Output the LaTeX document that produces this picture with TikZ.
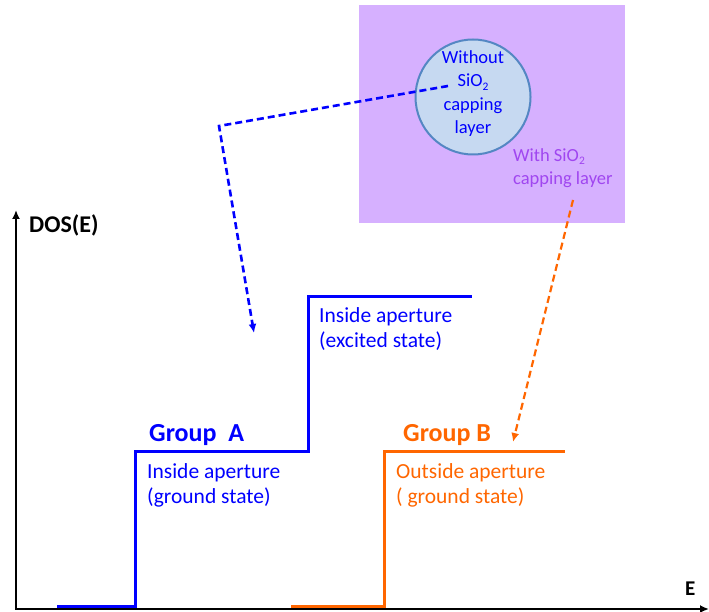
\documentclass[tikz,border=0pt]{standalone}
\usepackage{fontspec}
\setmainfont{Carlito}
\usetikzlibrary{arrows.meta}
\definecolor{myblue}{RGB}{0,0,255}
\definecolor{myorange}{RGB}{255,102,0}
\definecolor{boxpurple}{RGB}{214,176,255}
\definecolor{txtpurple}{RGB}{160,70,240}
\definecolor{circfill}{RGB}{198,217,241}
\definecolor{circline}{RGB}{84,135,195}
\newcommand\mysub[1]{\raisebox{-0.35ex}{\scalebox{0.62}{#1}}}
\begin{document}
\begin{tikzpicture}[x=1pt,y=-1pt,
  axis/.style={line width=2.6pt,black,{Latex[length=9pt,width=8pt]}-{Latex[length=9pt,width=8pt]}},
  stepline/.style={line width=3pt},
  dasharrow/.style={line width=2.6pt,dash pattern=on 7pt off 4pt,-{Latex[length=9pt,width=8pt]}},
  lbl/.style={inner sep=0pt,anchor=base west,align=left},
  lbig/.style={font=\fontsize{26}{30}\selectfont\bfseries},
  lmid/.style={font=\fontsize{21.5}{25}\selectfont},
  lsmall/.style={font=\fontsize{18.5}{23.5}\selectfont}]
\useasboundingbox (0,0) rectangle (709,612);
% purple box and circle
\fill[boxpurple] (359,5) rectangle (625,223);
\node[circle,draw=circline,fill=circfill,line width=2pt,minimum size=115pt,inner sep=0pt] (circ) at (473,97) {};
% axes
\coordinate (ytop) at (16,210);
\coordinate (orig) at (16,609);
\coordinate (xend) at (709,609);
\draw[axis] (ytop) -- (orig) -- (xend);
\node[lbl,font=\fontsize{24}{28}\selectfont\bfseries] (dos) at (29,233) {DOS(E)};
\node[lbl,font=\fontsize{21}{25}\selectfont\bfseries] (elab) at (685,595) {E};
% steps
\draw[stepline,myblue] (57,606) -- (135,606) -- (135,451) -- (308,451) -- (308,296) -- (472,296);
\draw[stepline,myorange] (291,606) -- (384,606) -- (384,451) -- (565,451);
% dashed connectors
\coordinate (b1) at (448,86);
\coordinate (b2) at (219,126);
\coordinate (b3) at (254,333);
\draw[dasharrow,myblue] (b1) -- (b2) -- (b3);
\coordinate (o1) at (573,200);
\coordinate (o2) at (513,442);
\draw[dasharrow,myorange,line width=2.2pt] (o1) -- (o2);
% texts (multi-line nodes: base = last line)
\node[lsmall,myblue,inner sep=0pt,align=center,anchor=base] (ctext) at (473,134) {Without\\SiO\mysub{2}\\capping\\layer};
\node[lbl,lsmall,txtpurple] (ptext) at (513,185) {With SiO\mysub{2}\\capping layer};
\node[lbl,lbig,myblue] (ga) at (149,441) {Group\hspace{0.45em}A};
\node[lbl,lmid,myblue] (ga1) at (147,503) {Inside aperture\\(ground state)};
\node[lbl,lmid,myblue] (ga2) at (319,347) {Inside aperture\\(excited state)};
\node[lbl,lbig,myorange] (gb) at (403,441) {Group B};
\node[lbl,lmid,myorange] (gb1) at (396,503) {Outside aperture\\( ground state)};
\end{tikzpicture}
\end{document}
